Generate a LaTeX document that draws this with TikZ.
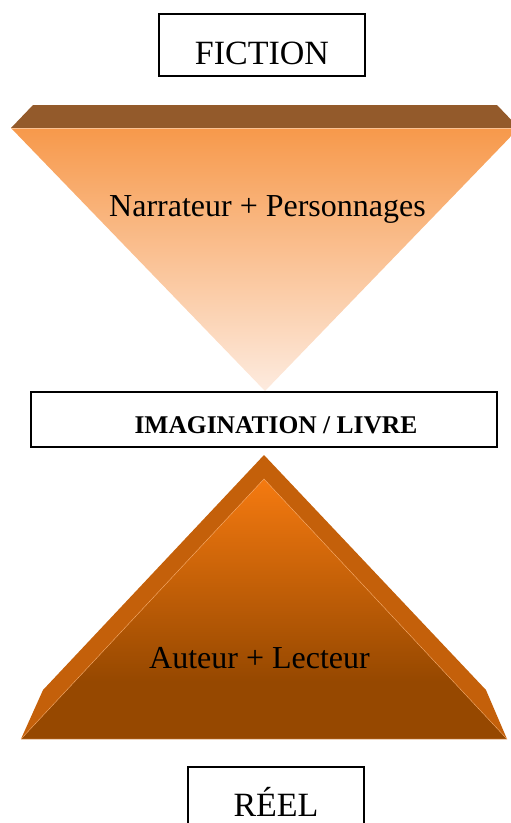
\documentclass[tikz,border=0pt]{standalone}
\usepackage{fontspec}
\setmainfont{Liberation Serif}
\usetikzlibrary{positioning}
\definecolor{topband}{HTML}{935A2B}
\definecolor{topface}{HTML}{F7994B}
\definecolor{toppale}{HTML}{FDEBDF}
\definecolor{lowband}{HTML}{C4600A}
\definecolor{loworange}{HTML}{F57A10}
\definecolor{lowdark}{HTML}{964800}
\pgfdeclareverticalshading{lowface}{100bp}{color(0bp)=(lowdark); color(25bp)=(lowdark); color(36bp)=(lowdark); color(75bp)=(loworange); color(100bp)=(loworange)}

\begin{document}
\begin{tikzpicture}[x = 1pt, y = -1pt, box/.style = { draw, line width = 1.6pt, inner sep = 0pt }, big/.style = { font = \fontsize{32}{38}\selectfont }, title/.style = { font = \fontsize{34}{40}\selectfont }]
	\useasboundingbox (0,0) rectangle (511,823);

	% upper triangle
	\fill [topband] (11,128) -- (33,105) -- (497,105) -- (519,128) -- cycle;
	\shade [top color = topface, bottom color = toppale] (11,128) -- (519,128) -- (265,391) -- cycle;
	\draw [color = topface!60!white, line width = 0.5pt] (11,128) -- (519,128);

	% lower triangle
	\fill [lowband] (21,739) -- (43,690) -- (264,455) -- (486,690) -- (507,739) -- cycle;
	\shade [shading = lowface] (21,739) -- (264,479) -- (507,739) -- cycle;
	\draw [color = loworange!60!white, line width = 0.4pt] (21,739) -- (264,479) -- (507,739) -- cycle;

	\node [box, title, minimum width = 206, minimum height = 62, text height = 42, text depth = 4] (fiction) at (262,45) {FICTION};
	\node [big, anchor = base] (narr) at (267.5,216) {Narrateur + Personnages};
	\node [box, minimum width = 466, minimum height = 55, text height = 30, text depth = 3, font = \fontsize{25.5}{30}\selectfont\bfseries] (imag) at (264,419.5) {\hspace*{24pt}IMAGINATION / LIVRE};
	\node [big, anchor = base] (auteur) at (259.5,668) {Auteur + Lecteur};
	\node [box, title, minimum width = 176, minimum height = 80, text height = 22, text depth = 4] (reel) at (276,807) {RÉEL};
\end{tikzpicture}
\end{document}
